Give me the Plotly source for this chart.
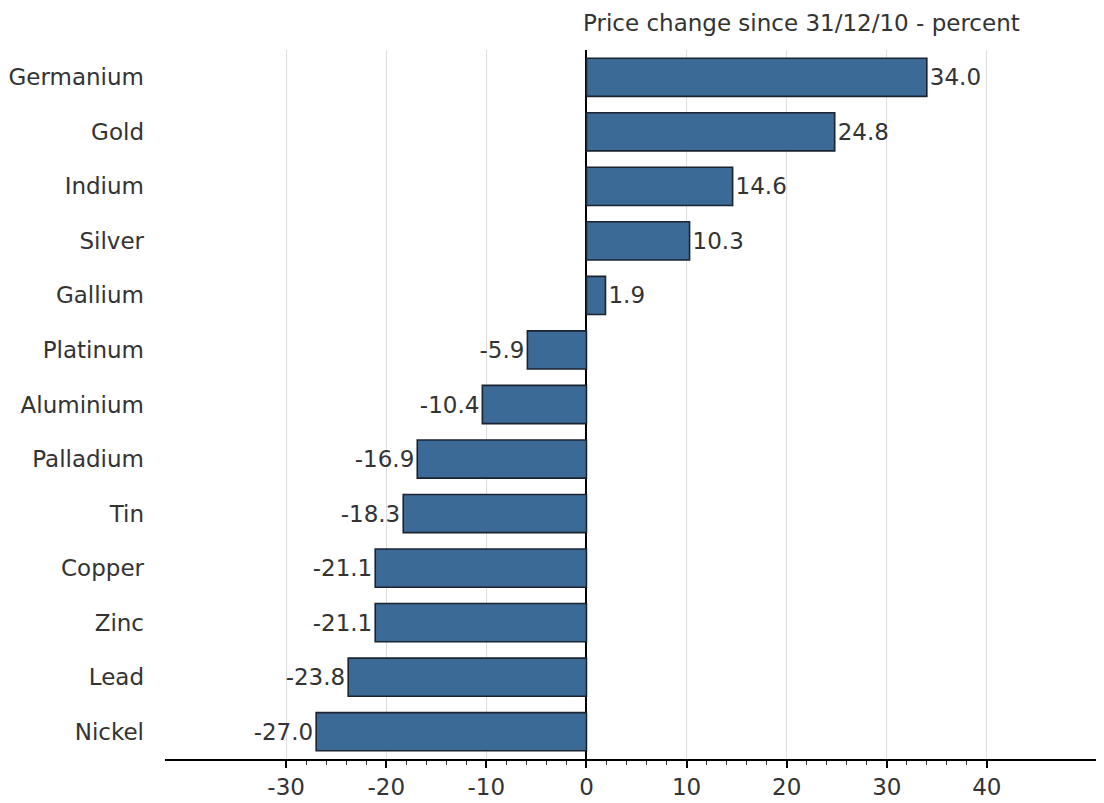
import plotly.graph_objects as go

metals = ["Germanium", "Gold", "Indium", "Silver", "Gallium", "Platinum", "Aluminium",
          "Palladium", "Tin", "Copper", "Zinc", "Lead", "Nickel"]
changes = [34.0, 24.8, 14.6, 10.3, 1.9, -5.9, -10.4, -16.9, -18.3, -21.1, -21.1, -23.8, -27.0]
major_ticks = [-30, -20, -10, 0, 10, 20, 30, 40]
minor_ticks = [v for v in range(-30, 41, 2) if v % 10 != 0]
title_text = "Price change since 31/12/10 - percent"

FONT = "DejaVu Sans"
TXT = "#333333"
FS = 23

fig = go.Figure(go.Bar(
    y=metals, x=changes, orientation="h",
    marker=dict(color="#3a6a95", line=dict(color="#1b2330", width=1.6)),
    width=0.7,
    text=[f"{v:.1f}" for v in changes], textposition="outside",
    textfont=dict(family=FONT, size=FS, color=TXT),
    cliponaxis=False,
))

fig.update_layout(
    width=1104, height=803,
    margin=dict(l=157, r=8, t=42, b=52, autoexpand=False),
    plot_bgcolor="white", paper_bgcolor="white",
    showlegend=False,
    font=dict(family=FONT, size=FS, color=TXT),
    xaxis=dict(
        range=[-42.1, 51.7], automargin=False,
        tickmode="array", tickvals=major_ticks, ticktext=[str(v) for v in major_ticks],
        ticks="outside", ticklen=7, tickwidth=1.5, tickcolor="black",
        minor=dict(tickmode="array", tickvals=minor_ticks, ticks="outside", ticklen=4,
                   tickwidth=1.2, tickcolor="#333", showgrid=False),
        showgrid=True, gridcolor="#dddddd", gridwidth=1,
        zeroline=True, zerolinecolor="black", zerolinewidth=1.5,
        showline=True, linecolor="black", linewidth=1.6,
        tickfont=dict(family=FONT, size=FS, color=TXT),
        fixedrange=True,
    ),
    yaxis=dict(
        categoryorder="array", categoryarray=metals, autorange="reversed",
        automargin=False,
        showgrid=False, zeroline=False, showline=False,
        ticks="", ticklabelstandoff=20,
        tickfont=dict(family=FONT, size=FS, color=TXT),
    ),
    annotations=[dict(
        x=0, y=1, xref="x", yref="paper", yanchor="bottom", xanchor="left",
        xshift=-5, yshift=12, text=title_text, showarrow=False,
        font=dict(family=FONT, size=FS, color=TXT),
    )],
)

fig.write_html("out.html")
